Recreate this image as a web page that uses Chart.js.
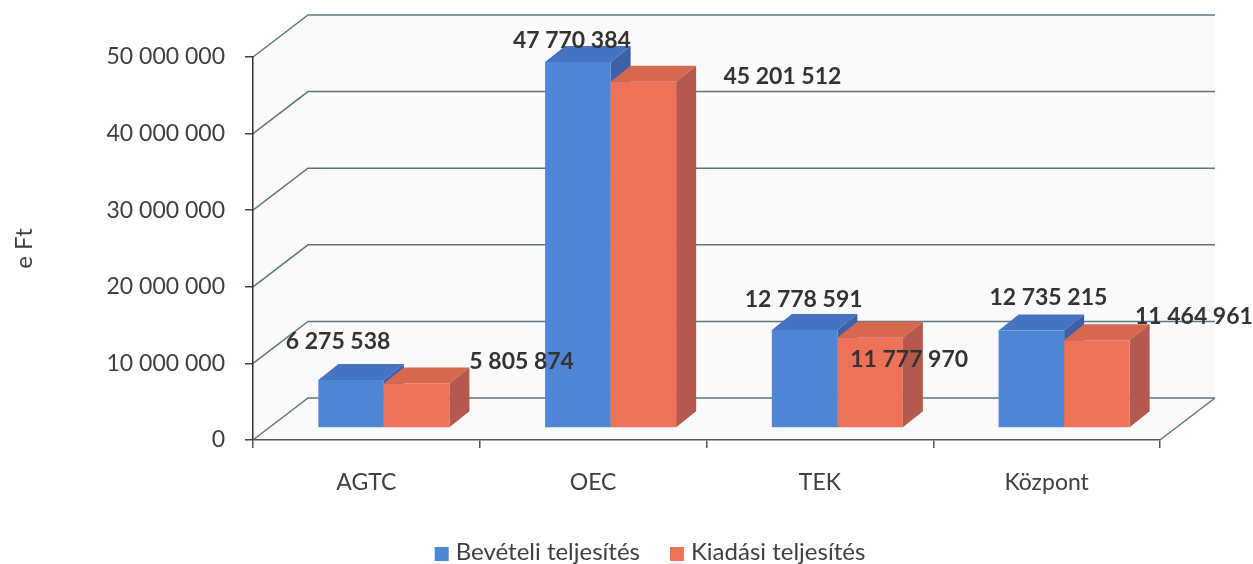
<!DOCTYPE html>
<html>
<head>
<meta charset="utf-8">
<script src="https://cdn.jsdelivr.net/npm/chart.js@4.4.1/dist/chart.umd.min.js"></script>
<style>
  html, body { margin: 0; padding: 0; background: #ffffff; }
  #wrap { width: 1253px; height: 564px; }
</style>
</head>
<body>
<div id="wrap"><canvas id="c" width="1253" height="564"></canvas></div>
<script>
// ---- data ----
const categories = ['AGTC', 'OEC', 'TEK', 'Központ'];
const seriesNames = ['Bevételi teljesítés', 'Kiadási teljesítés'];
const bevetel = [6275538, 47770384, 12778591, 12735215];
const kiadas = [5805874, 45201512, 11777970, 11464961];
const yTicks = [0, 10000000, 20000000, 30000000, 40000000, 50000000];
const axisTitle = 'e Ft';

// ---- style ----
const FONT = 'Lato, "Open Sans", sans-serif';
const BOX_DEPTH = { x: 55, y: -42 };      // depth of the 3D box (walls)
const BAR_SHIFT = { x: 17.5, y: -12 };    // bars sit in the middle of the depth
const BAR_DEPTH = { x: 20, y: -16 };      // depth of each bar
const faceColors = [
  { front: '#4f86d4', top: '#4673c2', side: '#3c61a6' },
  { front: '#ee7257', top: '#d7684f', side: '#b4594c' }
];
// label nudges (relative to the bar's front top centre), like the Excel placement
const labelNudge = [
  [[-13, -38], [-6, -22], [-1, -31], [17, -33]],
  [[105, -22], [139, -5], [39, 22], [97, -24]]
];

const fmt = v => String(v).replace(/\B(?=(\d{3})+(?!\d))/g, ' ');

const threeD = {
  id: 'threeD',
  beforeDraw(chart) {
    const { ctx, chartArea: a, scales: { y } } = chart;
    const b0 = y.getPixelForValue(0);
    const bt = y.getPixelForValue(50000000);
    ctx.save();
    ctx.fillStyle = '#fafafa';
    ctx.beginPath();
    ctx.moveTo(a.left, b0);
    ctx.lineTo(a.left, bt);
    ctx.lineTo(a.left + BOX_DEPTH.x, bt + BOX_DEPTH.y);
    ctx.lineTo(a.right + BOX_DEPTH.x, bt + BOX_DEPTH.y);
    ctx.lineTo(a.right + BOX_DEPTH.x, b0 + BOX_DEPTH.y);
    ctx.lineTo(a.right, b0);
    ctx.closePath();
    ctx.fill();
    ctx.strokeStyle = '#5c7784';
    ctx.lineWidth = 1.5;
    yTicks.forEach(v => {
      const py = y.getPixelForValue(v);
      ctx.beginPath();
      ctx.moveTo(a.left, py);
      ctx.lineTo(a.left + BOX_DEPTH.x, py + BOX_DEPTH.y);
      ctx.lineTo(a.right + BOX_DEPTH.x, py + BOX_DEPTH.y);
      ctx.stroke();
    });
    ctx.beginPath();
    ctx.moveTo(a.right, b0);
    ctx.lineTo(a.right + BOX_DEPTH.x, b0 + BOX_DEPTH.y);
    ctx.stroke();
    ctx.restore();
  },
  beforeDatasetsDraw(chart) {
    const { ctx } = chart;
    ctx.save();
    ctx.translate(BAR_SHIFT.x, BAR_SHIFT.y);
    const n = chart.data.labels.length;
    for (let i = 0; i < n; i++) {
      chart.data.datasets.forEach((ds, j) => {
        const el = chart.getDatasetMeta(j).data[i];
        const l = el.x - el.width / 2, r = el.x + el.width / 2;
        const t = el.y, bse = el.base;
        const dx = BAR_DEPTH.x, dy = BAR_DEPTH.y;
        ctx.fillStyle = faceColors[j].top;
        ctx.beginPath();
        ctx.moveTo(l, t); ctx.lineTo(l + dx, t + dy); ctx.lineTo(r + dx, t + dy); ctx.lineTo(r, t);
        ctx.closePath(); ctx.fill();
        ctx.fillStyle = faceColors[j].side;
        ctx.beginPath();
        ctx.moveTo(r, t); ctx.lineTo(r + dx, t + dy); ctx.lineTo(r + dx, bse + dy); ctx.lineTo(r, bse);
        ctx.closePath(); ctx.fill();
      });
    }
  },
  afterDatasetsDraw(chart) {
    const { ctx } = chart;
    ctx.restore();
    ctx.save();
    ctx.font = 'bold 23px ' + FONT;
    ctx.fillStyle = '#333333';
    ctx.textAlign = 'center';
    ctx.textBaseline = 'middle';
    chart.data.datasets.forEach((ds, j) => {
      chart.getDatasetMeta(j).data.forEach((el, i) => {
        const nx = labelNudge[j][i][0], ny = labelNudge[j][i][1];
        ctx.fillText(fmt(ds.data[i]), el.x + BAR_SHIFT.x + nx, el.y + BAR_SHIFT.y + ny);
      });
    });
    ctx.restore();
  },
  afterDraw(chart) {
    const { ctx } = chart;
    ctx.save();
    ctx.font = '24px ' + FONT;
    ctx.textBaseline = 'middle';
    ctx.textAlign = 'left';
    const box = 14, gapText = 7, gapItem = 30, cy = 552;
    const widths = chart.data.datasets.map(ds => box + gapText + ctx.measureText(ds.label).width);
    const total = widths.reduce((s, w) => s + w, 0) + gapItem * (widths.length - 1);
    let x = 650 - total / 2;
    chart.data.datasets.forEach((ds, j) => {
      ctx.fillStyle = faceColors[j].front;
      ctx.fillRect(x, cy - box / 2 + 2, box, box);
      ctx.fillStyle = '#404040';
      ctx.fillText(ds.label, x + box + gapText, cy);
      x += widths[j] + gapItem;
    });
    ctx.restore();
  }
};

new Chart(document.getElementById('c'), {
  type: 'bar',
  data: {
    labels: categories,
    datasets: [
      { label: seriesNames[0], data: bevetel, backgroundColor: faceColors[0].front, borderWidth: 0, clip: false },
      { label: seriesNames[1], data: kiadas, backgroundColor: faceColors[1].front, borderWidth: 0, clip: false }
    ]
  },
  options: {
    responsive: false,
    animation: false,
    events: [],
    datasets: { bar: { categoryPercentage: 0.578, barPercentage: 1.0 } },
    layout: { padding: { top: 57, right: 93, bottom: 0, left: 0 } },
    plugins: { legend: { display: false }, tooltip: { enabled: false } },
    scales: {
      x: {
        afterFit: s => { s.height = 124; },
        grid: { drawOnChartArea: false, drawTicks: true, tickLength: 8, color: '#555555', lineWidth: 1.5, offset: true },
        border: { display: true, color: '#555555', width: 1.5 },
        ticks: { font: { family: FONT, size: 23 }, color: '#404040', padding: 21 }
      },
      y: {
        min: 0, max: 50000000,
        afterFit: s => { s.width = 253; },
        afterBuildTicks: s => { s.ticks = yTicks.map(v => ({ value: v })); },
        grid: { drawOnChartArea: false, drawTicks: true, tickLength: 8, color: '#444444', lineWidth: 1.5 },
        border: { display: true, color: '#333333', width: 1.5 },
        ticks: { font: { family: FONT, size: 23 }, color: '#404040', padding: 20, callback: v => fmt(v) },
        title: { display: true, text: axisTitle, font: { family: FONT, size: 24 }, color: '#404040', padding: { top: 10, bottom: 0 } }
      }
    }
  },
  plugins: [threeD]
});
</script>
</body>
</html>
